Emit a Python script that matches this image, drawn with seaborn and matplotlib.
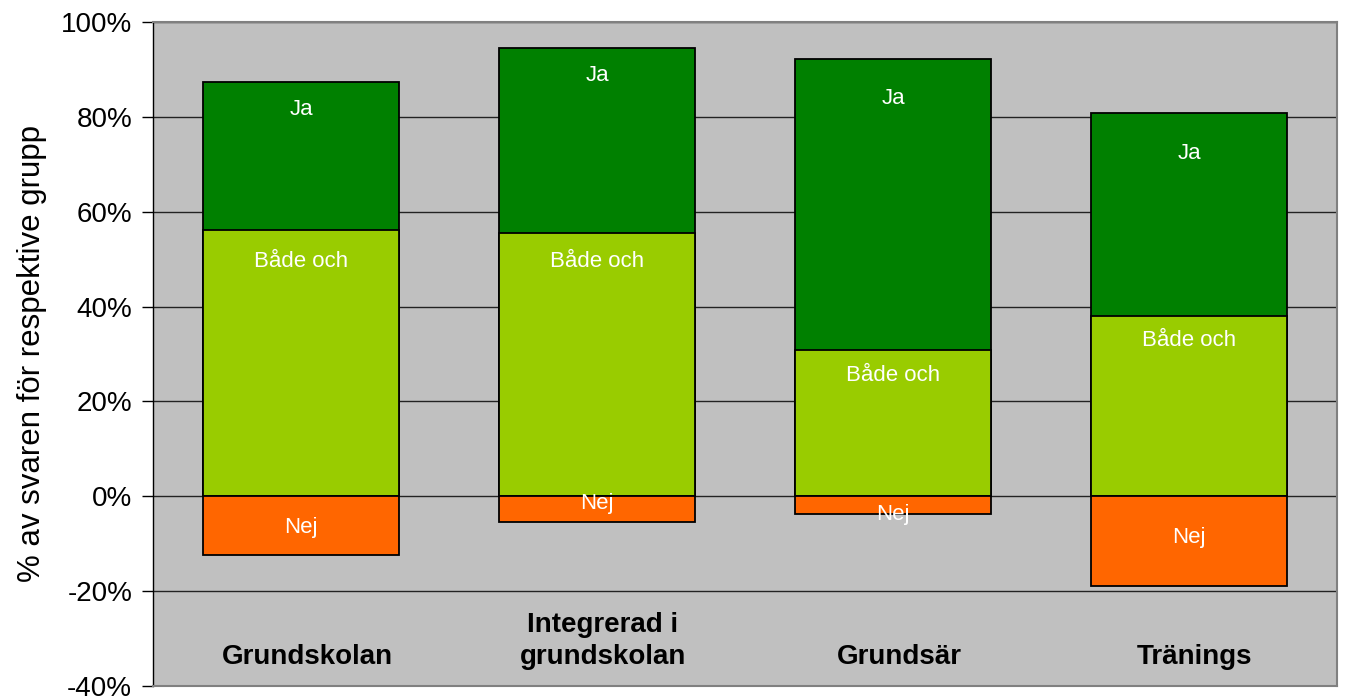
import numpy as np
import pandas as pd
import matplotlib
matplotlib.use("Agg")
import matplotlib.pyplot as plt
import seaborn as sns

groups = ["Grundskolan", "Integrerad i\ngrundskolan", "Grundsär", "Tränings"]
ja = [31.2, 39.0, 61.4, 42.8]
bade_och = [56.1, 55.5, 30.8, 38.0]
nej = [-12.4, -5.5, -3.8, -19.0]

# where Excel put the segment labels (in %)
ja_label_y = [81.6, 88.8, 83.8, 72.2]
bade_label_y = [49.6, 49.6, 25.5, 32.9]
nej_label_y = [-6.5, -1.5, -3.8, -8.6]

C_JA = "#008000"
C_BADE = "#99CC00"
C_NEJ = "#FF6600"

sns.set_style("white")
plt.rcParams["font.family"] = ["Liberation Sans", "DejaVu Sans"]
plt.rcParams["text.color"] = "black"
plt.rcParams["axes.labelcolor"] = "black"
plt.rcParams["ytick.color"] = "black"

df = pd.DataFrame({
    "grupp": groups,
    "top": np.array(ja) + np.array(bade_och),
    "bade": bade_och,
    "nej": nej,
})

fig = plt.figure(figsize=(13.46, 6.98), dpi=100)
ax = fig.add_axes([0.1137, 0.0172, 0.8796, 0.9513])
ax.set_facecolor("#C0C0C0")

for col, color in [("top", C_JA), ("bade", C_BADE), ("nej", C_NEJ)]:
    sns.barplot(data=df, x="grupp", y=col, color=color, width=0.66,
                edgecolor="black", linewidth=1.3, saturation=1, ax=ax, zorder=3)

ax.set_ylim(-40, 100)
ax.set_xlim(-0.5, 3.5)
ax.set_yticks(range(-40, 101, 20))
ax.set_yticklabels([f"{v}%" for v in range(-40, 101, 20)], fontsize=20)
ax.yaxis.grid(True, color="#222222", linewidth=1.0, zorder=0)
ax.set_axisbelow(True)
ax.tick_params(axis="y", direction="out", length=8, width=1, color="black", pad=7, left=True)
ax.set_xticks([])
ax.set_xlabel("")
ax.set_ylabel("% av svaren för respektive grupp", fontsize=22.5, labelpad=10)

for sp in ["top", "right", "bottom"]:
    ax.spines[sp].set_color("#808080")
    ax.spines[sp].set_linewidth(1.5)
ax.spines["left"].set_color("black")
ax.spines["left"].set_linewidth(1.0)

for i in range(len(groups)):
    ax.text(i, ja_label_y[i], "Ja", color="white", ha="center", va="center", fontsize=16, zorder=5)
    ax.text(i, bade_label_y[i], "Både och", color="white", ha="center", va="center", fontsize=16, zorder=5)
    ax.text(i, nej_label_y[i], "Nej", color="white", ha="center", va="center", fontsize=16, zorder=5)
    ax.text(i + 0.02, -36.6, groups[i], color="black", ha="center", va="bottom", fontsize=20,
            fontweight="bold", linespacing=1.3, zorder=5)

fig.savefig("out.png", dpi=100)
